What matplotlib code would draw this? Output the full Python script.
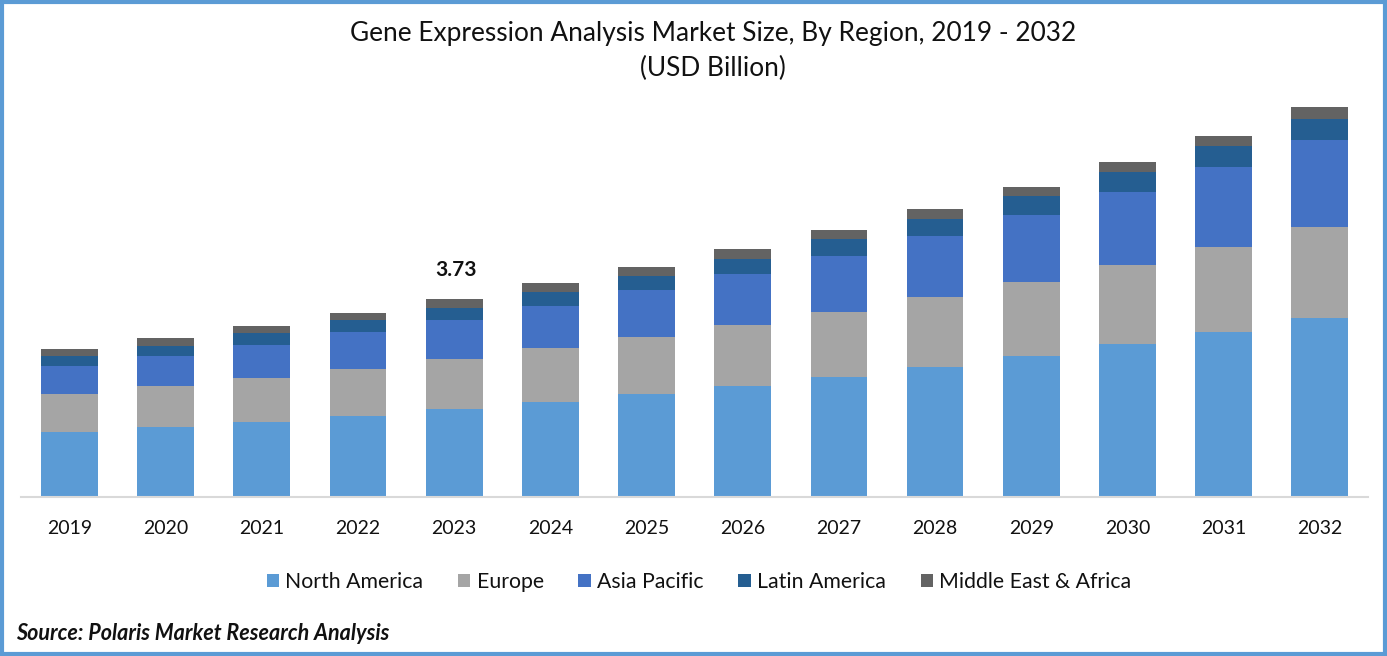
import numpy as np
import matplotlib
matplotlib.use('Agg')
import matplotlib.pyplot as plt
from matplotlib.patches import Rectangle

years = ['2019', '2020', '2021', '2022', '2023', '2024', '2025',
         '2026', '2027', '2028', '2029', '2030', '2031', '2032']
north_america = [1.22, 1.32, 1.41, 1.53, 1.66, 1.79, 1.94, 2.09, 2.26, 2.45, 2.66, 2.88, 3.11, 3.37]
europe = [0.72, 0.77, 0.83, 0.89, 0.94, 1.02, 1.07, 1.15, 1.22, 1.32, 1.39, 1.49, 1.60, 1.71]
asia_pacific = [0.53, 0.57, 0.62, 0.68, 0.73, 0.79, 0.89, 0.96, 1.06, 1.15, 1.26, 1.38, 1.51, 1.64]
latin_america = [0.19, 0.19, 0.23, 0.24, 0.23, 0.26, 0.26, 0.28, 0.32, 0.32, 0.36, 0.38, 0.40, 0.41]
mea = [0.13, 0.15, 0.13, 0.13, 0.17, 0.17, 0.17, 0.19, 0.17, 0.19, 0.17, 0.19, 0.19, 0.21]

series = [('North America', north_america, '#5B9BD5'),
          ('Europe', europe, '#A5A5A5'),
          ('Asia Pacific', asia_pacific, '#4472C4'),
          ('Latin America', latin_america, '#255E91'),
          ('Middle East & Africa', mea, '#636363')]

W, H = 1387, 656
plt.rcParams['font.family'] = ['Lato', 'DejaVu Sans']

fig = plt.figure(figsize=(W / 100, H / 100), dpi=100)
ax = fig.add_axes([21.3 / W, (H - 497) / H, 1346.6 / W, 407 / H])

x = np.arange(len(years))
bottom = np.zeros(len(years))
for name, values, color in series:
    ax.bar(x, values, 0.59, bottom=bottom, color=color, label=name)
    bottom += np.array(values)

ax.set_xlim(-0.5, len(years) - 0.5)
ax.set_ylim(0, 7.668)
ax.set_xticks(x)
ax.set_xticklabels(years)
ax.tick_params(axis='x', length=0, pad=16.5, labelsize=14, labelcolor='#111111')
ax.yaxis.set_visible(False)
for side in ['top', 'left', 'right']:
    ax.spines[side].set_visible(False)
ax.spines['bottom'].set_color('#D9D9D9')
ax.spines['bottom'].set_linewidth(1.5)

# label only on the base year
ax.annotate('3.73', (x[4], bottom[4]), xytext=(1, 14), textcoords='offset points',
            ha='center', va='bottom', fontsize=15, fontweight='bold', color='#111111')

fig.text(713 / W, 1 - 33.5 / H, 'Gene Expression Analysis Market Size, By Region, 2019 - 2032',
         ha='center', va='center', fontsize=18.9, color='#111111')
fig.text(713 / W, 1 - 68.5 / H, '(USD Billion)', ha='center', va='center', fontsize=18.9, color='#111111')

fig.legend(*ax.get_legend_handles_labels(), loc='center', bbox_to_anchor=(699 / W, 1 - 582 / H),
           ncol=5, frameon=False, fontsize=15.3, handlelength=0.58, handleheight=0.58,
           handletextpad=0.3, columnspacing=1.63, labelcolor='#111111')

fig.text(16.5 / W, 1 - 633.5 / H, 'Source: Polaris Market Research Analysis', ha='left', va='center',
         fontsize=15.5, fontweight='bold', style='italic', color='#111111')

# blue frame around the whole picture
fig.add_artist(Rectangle((2 / W, 2 / H), (W - 4) / W, (H - 4) / H, transform=fig.transFigure,
                         fill=False, edgecolor='#5B9BD5', linewidth=3))

fig.savefig('out.png', dpi=100)
